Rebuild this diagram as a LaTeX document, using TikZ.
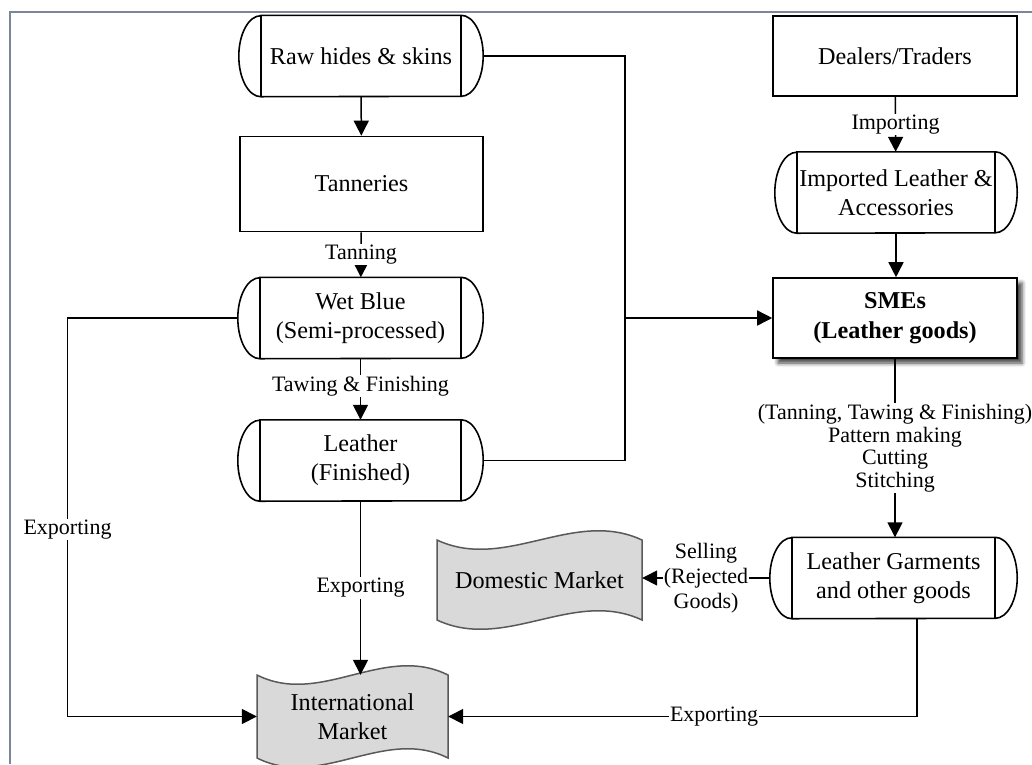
\documentclass[tikz,border=0pt]{standalone}
\usepackage{fontspec}
\setmainfont{Liberation Serif}
\usetikzlibrary{arrows.meta,shadows.blur,calc}
\definecolor{framec}{HTML}{7B8799}
\definecolor{mktfill}{HTML}{D9D9D9}
\tikzset{
  mainfont/.style={font=\fontsize{24.2}{29}\selectfont},
  box/.style={draw, line width=1.6pt, mainfont, align=center, inner sep=0pt, fill=white},
  capbox/.style={mainfont, align=center, inner sep=0pt, minimum height=81pt},
  mkt/.style={mainfont, align=center, inner sep=0pt},
  lbl/.style={font=\fontsize{22}{24}\selectfont, fill=white, inner sep=1pt, align=center},
  conn/.style={line width=1.5pt},
  arr/.style={conn, -{Triangle[length=15pt,width=15pt]}},
}
\newcommand\capshape[1]{%
  \draw[line width=1.6pt] ([xshift=22pt]#1.north west) -- ([xshift=-22pt]#1.north east)
    arc[start angle=90,end angle=-90,x radius=22pt,y radius=40.5pt]
    -- ([xshift=22pt]#1.south west)
    arc[start angle=270,end angle=90,x radius=22pt,y radius=40.5pt] -- cycle;
  \draw[line width=1.6pt] ([xshift=22pt]#1.north west) -- ([xshift=22pt]#1.south west)
    ([xshift=-22pt]#1.north east) -- ([xshift=-22pt]#1.south east);}
\newcommand\tapeshape[4]{%
  \filldraw[fill=mktfill, draw=black!65, line width=1.5pt]
    (#1,#3) .. controls ({#1+(#2-#1)/3},{#3-32}) and ({#1+2*(#2-#1)/3},{#3+32}) .. (#2,#3)
    -- (#2,#4) .. controls ({#1+2*(#2-#1)/3},{#4+32}) and ({#1+(#2-#1)/3},{#4-32}) .. (#1,#4) -- cycle;}
\begin{document}
\begin{tikzpicture}[x=1pt,y=1pt]
\useasboundingbox (0,0) rectangle (1032,-764);
\draw[framec, line width=1.5pt] (10,-764) -- (10,-12) -- (1032,-12);

% left column
\node[capbox, minimum width=244pt] (raw) at (361,-56) {Raw hides \& skins};
\capshape{raw}
\node[box, minimum width=243pt, minimum height=95pt] (tan) at (361.5,-184) {Tanneries};
\node[capbox, minimum width=245pt] (wet) at (360.5,-318) {Wet Blue\\(Semi-processed)};
\capshape{wet}
\node[capbox, minimum width=245pt] (leather) at (360.5,-460.5) {Leather\\(Finished)};
\capshape{leather}

% right column
\node[box, minimum width=244pt, minimum height=80pt] (dealers) at (895,-56) {Dealers/Traders};
\node[capbox, minimum width=242pt] (imported) at (896,-192.5) {Imported Leather \&\\Accessories};
\capshape{imported}
\node[box, minimum width=244pt, minimum height=80pt, font=\fontsize{24.2}{30}\selectfont\bfseries,
  blur shadow={shadow xshift=5pt, shadow yshift=-5pt, shadow blur radius=4pt, shadow opacity=75}]
  (smes) at (895,-318) {SMEs\\(Leather goods)};
\node[capbox, minimum width=247pt] (garments) at (893.5,-578) {Leather Garments\\and other goods};
\capshape{garments}

% markets
\tapeshape{437}{642}{-540}{-620}
\node[mkt, minimum width=205pt, minimum height=80pt] (domestic) at (539.5,-580) {Domestic Market};
\tapeshape{257}{448}{-675}{-758}
\node[mkt, minimum width=191pt, minimum height=83pt] (intl) at (352.5,-716.5) {International\\Market};

% junctions
\coordinate (j1) at (625,-56);
\coordinate (j2) at (625,-460.5);
\coordinate (j3) at (625,-318);
\coordinate (c1) at (67.5,-318);
\coordinate (c2) at (67.5,-716.5);
\coordinate (c3) at (917,-716.5);

% connectors
\draw[arr] (raw) -- (tan);
\draw[arr] (tan) -- node[lbl]{Tanning} (wet);
\draw[arr] (wet) -- node[lbl, pos=0.45]{Tawing \& Finishing} (leather);
\draw[conn] (raw.east) -- (j1) -- (j2) -- (leather.east);
\draw[arr] (j3) -- (smes.west);
\draw[arr] (dealers) -- node[lbl]{Importing} (imported);
\draw[arr] (imported.south) -- (imported.south |- smes.north);
\draw[arr] (smes.south) -- node[lbl, font=\fontsize{22}{22.5}\selectfont]{(Tanning, Tawing \& Finishing)\\Pattern making\\Cutting\\Stitching} (smes.south |- garments.north);
\draw[arr] (garments.west) -- node[lbl, font=\fontsize{22}{25}\selectfont]{Selling\\(Rejected\\Goods)} (garments.west -| domestic.east);
\draw[arr] (leather.south) -- node[lbl]{Exporting} (leather.south |- intl.north);
\draw[arr] (wet.west) -- (c1) -- node[lbl, pos=0.53]{Exporting} (c2) -- (intl.west);
\draw[arr] (garments.south -| c3) -- (c3) -- node[lbl, pos=0.433]{Exporting} (intl.east);
\end{tikzpicture}
\end{document}
